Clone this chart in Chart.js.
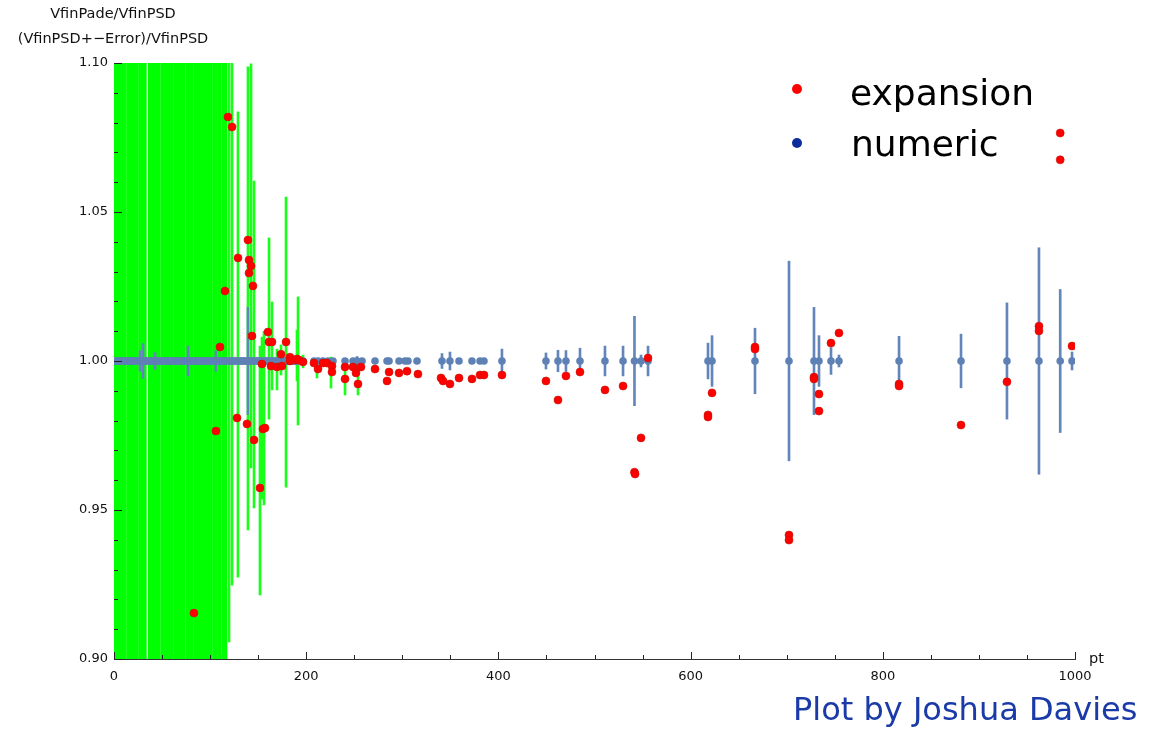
<!DOCTYPE html>
<html><head><meta charset="utf-8">
<script src="https://cdn.jsdelivr.net/npm/chart.js@4.4.0/dist/chart.umd.min.js"></script>
<style>
html,body{margin:0;padding:0;background:#fff;}
#wrap{position:relative;width:1160px;height:731px;overflow:hidden;}
canvas{position:absolute;left:0;top:0;}
.t{position:absolute;white-space:nowrap;line-height:1;}
.ax{font-family:"DejaVu Sans",sans-serif;font-size:14.5px;color:#111;}
.lg{font-family:"DejaVu Sans",sans-serif;font-size:36px;color:#000;}
.dot{position:absolute;width:10px;height:10px;border-radius:50%;}
</style></head><body>
<div id="wrap">
<canvas id="c" width="1160" height="731"></canvas>
<div class="t ax" style="left:113px;top:6px;transform:translateX(-50%);">VfinPade/VfinPSD</div>
<div class="t ax" style="left:113px;top:31px;transform:translateX(-50%);">(VfinPSD+−Error)/VfinPSD</div>
<div class="t ax" style="left:1089px;top:651px;">pt</div>
<div class="dot" style="left:792px;top:84px;background:#ff0000;"></div>
<div class="dot" style="left:792px;top:138px;background:#0d2d9c;"></div>
<div class="t lg" style="left:850px;top:75px;">expansion</div>
<div class="t lg" style="left:851px;top:126px;">numeric</div>
<div class="t" style="left:793px;top:693px;font-family:'DejaVu Sans',sans-serif;font-size:32px;color:#1a3aa8;">Plot by Joshua Davies</div>
</div>
<script>
// ---- expansion (red points) ----
const expX = [83.2,106.1,110.3,115.5,118.6,122.8,128.0,129.0,138.4,139.4,140.5,140.5,142.6,143.6,144.6,145.7,151.9,154.0,155.0,157.1,160.2,161.3,164.4,163.4,169.6,173.8,174.8,179.0,183.1,183.1,188.3,190.4,192.5,196.7,208.1,212.3,217.5,221.6,226.8,226.8,240.4,240.4,248.7,251.8,253.9,257.0,271.6,284.1,286.2,296.6,304.9,316.3,340.3,342.4,349.6,359.0,372.5,380.9,385.0,403.7,449.5,462.0,470.3,484.9,510.9,529.7,541.6,542.2,548.4,555.7,618.1,618.1,622.3,667.0,667.0,702.4,702.4,728.4,728.4,733.6,733.6,746.1,754.4,816.9,816.9,881.4,929.2,962.5,962.5,984.6,984.6,996.9];
const expY = [0.9154,0.9765,1.0047,1.0235,1.0819,1.0785,0.9809,1.0346,0.9789,1.0406,1.0339,1.0295,1.0319,1.0084,1.0252,0.9735,0.9574,0.9990,0.9772,0.9775,1.0097,1.0064,1.0064,0.9983,0.9980,1.0023,0.9983,1.0064,1.0013,1.0000,1.0003,1.0007,1.0003,0.9997,0.9993,0.9973,0.9993,0.9993,0.9983,0.9963,0.9980,0.9940,0.9980,0.9960,0.9923,0.9980,0.9973,0.9933,0.9963,0.9960,0.9966,0.9956,0.9943,0.9933,0.9923,0.9943,0.9940,0.9953,0.9953,0.9953,0.9933,0.9869,0.9950,0.9963,0.9903,0.9916,0.9627,0.9621,0.9742,1.0010,0.9819,0.9812,0.9893,1.0047,1.0040,0.9416,0.9399,0.9946,0.9940,0.9889,0.9832,1.0060,1.0094,0.9923,0.9916,0.9785,0.9930,1.0117,1.0101,1.0765,1.0675,1.0050];

// ---- numeric (blue points, all at ratio 1) ----
const numX = [0.4,1.9,3.1,4.8,6.2,7.5,9.1,10.6,12.0,13.4,14.9,16.3,17.8,19.5,20.9,22.2,23.8,25.1,26.7,28.0,29.6,31.2,32.5,34.0,35.6,37.1,38.5,40.2,41.6,43.0,44.7,46.1,47.5,49.2,50.6,52.1,53.7,55.0,56.6,58.1,59.5,61.2,62.7,64.0,65.6,67.2,68.5,70.1,71.7,73.0,74.6,76.1,77.6,79.2,80.5,82.1,83.7,85.0,86.6,88.2,89.5,91.1,92.7,94.0,95.6,97.2,98.5,100.1,101.8,103.1,104.6,106.2,107.6,109.1,110.7,112.0,113.6,115.3,116.6,118.2,119.7,121.1,122.6,124.2,125.5,127.1,128.7,130.0,131.6,133.2,134.5,136.1,137.7,139.0,140.6,142.2,143.5,145.1,146.7,148.0,149.6,151.2,152.5,154.1,155.7,157.0,158.6,160.2,161.5,163.1,164.7,166.0,167.6,169.3,170.6,172.2,173.8,175.1,176.7,178.3,179.6,181.2,182.8,184.1,185.7,187.3,188.6,190.2,191.8,193.1,196.7,208.1,212.3,217.5,222.7,227.9,240.4,248.7,252.9,258.1,271.6,284.1,286.2,296.6,302.8,305.9,315.3,341.3,349.6,359.0,372.5,380.9,385.0,403.7,449.5,462.0,470.3,484.9,510.9,529.7,541.6,548.4,555.7,618.1,622.3,667.0,702.4,728.4,733.6,746.1,754.4,816.9,881.4,929.2,962.5,984.6,996.9];
const numY = 1.0;
const numErrX = [27.1,30.2,42.7,77.0,106.1,139.4,252.9,341.3,349.6,403.7,449.5,462.0,470.3,484.9,510.9,529.7,541.6,548.4,555.7,618.1,622.3,667.0,702.4,728.4,733.6,746.1,754.4,816.9,881.4,929.2,962.5,984.6,996.9];
const numErr = [0.0034,0.0058,0.0028,0.005,0.0034,0.018,0.0015,0.0025,0.003,0.004,0.0027,0.0036,0.0035,0.0043,0.005,0.005,0.015,0.002,0.005,0.006,0.0085,0.011,0.0335,0.018,0.0085,0.0045,0.002,0.0083,0.009,0.0195,0.038,0.024,0.003];

// ---- (VfinPSD +- Error)/VfinPSD (green bars) ----
// bars whose ends lie beyond the plotted range
const greenFullX = [0.6,3.3,5.2,7.1,9.0,10.9,11.7,14.7,16.6,18.5,20.4,22.3,23.8,26.8,28.7,30.6,32.4,36.9,40.0,41.9,43.8,45.7,46.9,49.9,51.8,53.7,55.6,57.5,59.4,60.7,63.7,65.6,67.5,69.4,71.3,72.9,75.9,77.8,79.7,81.5,84.5,85.7,88.0,91.0,94.0,95.9,97.8,99.7,100.7,103.7,105.9,108.9,110.3,113.3,115.2,116.3];
const greenFullLo = 0.85;
const greenFullHi = 1.15;
const greenX  = [119.7,122.8,129.0,139.4,142.6,145.7,151.9,154.0,156.1,161.3,164.4,169.6,173.8,179.0,190.4,191.5,196.7,211.2,225.8,240.4,253.9];
const greenLo = [0.9057,0.9248,0.9275,0.9433,0.9641,0.9507,0.9215,0.9537,0.9517,0.9805,0.9903,0.9903,0.9953,0.9577,0.9933,0.9785,0.9977,0.9943,0.9909,0.9886,0.9886];
const greenHi = [1.15,1.15,1.0836,1.0987,1.0997,1.0604,1.005,1.008,1.010,1.0413,1.0198,1.004,1.0054,1.0550,1.0104,1.0215,1.002,0.9977,1.0013,0.9977,0.9977];

// ---- axis ticks ----
const yMin = 0.90, yMax = 1.10, yStep = 0.01, yLabelEvery = 5;
const xMin = 0, xMax = 1000, xStep = 50, xLabelEvery = 200;

const greenFullData = greenFullX.map(x => ({x: x, y: [greenFullLo, greenFullHi]}));
const greenData = greenX.map((x, i) => ({x: x, y: [greenLo[i], greenHi[i]]}));
const numErrData = numErrX.map((x, i) => ({x: x, y: [numY - numErr[i], numY + numErr[i]]}));

const inwardTicks = {
  id: 'inwardTicks',
  afterDraw(chart) {
    const {ctx, scales: {x, y}, chartArea} = chart;
    ctx.save();
    ctx.strokeStyle = '#222';
    ctx.lineWidth = 1;
    ctx.beginPath();
    y.ticks.forEach(t => {
      const py = Math.round(y.getPixelForValue(t.value)) + 0.5;
      const len = t.label ? 8 : 4;
      ctx.moveTo(chartArea.left, py); ctx.lineTo(chartArea.left + len, py);
    });
    x.ticks.forEach(t => {
      const px = Math.round(x.getPixelForValue(t.value)) + 0.5;
      const len = t.label ? 7 : 4;
      ctx.moveTo(px, chartArea.bottom); ctx.lineTo(px, chartArea.bottom - len);
    });
    ctx.stroke();
    ctx.restore();
  }
};

new Chart(document.getElementById('c'), {
  type: 'bar',
  data: {
    datasets: [
      {type: 'scatter', label: 'expansion', order: 0,
       data: expX.map((x, i) => ({x: x, y: expY[i]})),
       backgroundColor: '#ff0000', borderColor: '#c81000', borderWidth: 0.6, pointRadius: 4},
      {type: 'scatter', label: 'numeric', order: 1,
       data: numX.map(x => ({x: x, y: numY})),
       backgroundColor: '#5e81b5', borderWidth: 0, pointRadius: 3.8},
      {type: 'bar', label: 'numeric error', order: 2, grouped: false,
       data: numErrData, backgroundColor: '#6386ba', barThickness: 2},
      {type: 'bar', label: 'error', order: 3, grouped: false,
       data: greenData, backgroundColor: '#1aff1a', barThickness: 2},
      {type: 'bar', label: 'error (off scale)', order: 4, grouped: false,
       data: greenFullData, backgroundColor: '#00ff00', barThickness: 2.4}
    ]
  },
  options: {
    responsive: false, animation: false, devicePixelRatio: 1,
    layout: {padding: {left: 0, top: 63, right: 85, bottom: 0}},
    plugins: {legend: {display: false}, tooltip: {enabled: false}},
    scales: {
      x: {type: 'linear', min: xMin, max: xMax, offset: false,
          grid: {display: false, drawTicks: false}, border: {display: true, color: '#333', width: 1},
          ticks: {stepSize: xStep, autoSkip: false, maxRotation: 0, padding: 10, color: '#111',
                  font: {family: 'DejaVu Sans', size: 13},
                  callback: v => (Math.round(v) % xLabelEvery === 0 ? String(Math.round(v)) : '')},
          afterFit: s => { s.height = 72; }},
      y: {type: 'linear', min: yMin, max: yMax,
          grid: {display: false, drawTicks: false}, border: {display: true, color: '#222', width: 1},
          ticks: {stepSize: yStep, autoSkip: false, padding: 6, color: '#111',
                  font: {family: 'DejaVu Sans', size: 13},
                  callback: v => { const k = Math.round(v * 100); return k % yLabelEvery === 0 ? (k / 100).toFixed(2) : ''; }},
          afterFit: s => { s.width = 114; }}
    }
  },
  plugins: [inwardTicks]
});
</script>
</body></html>
